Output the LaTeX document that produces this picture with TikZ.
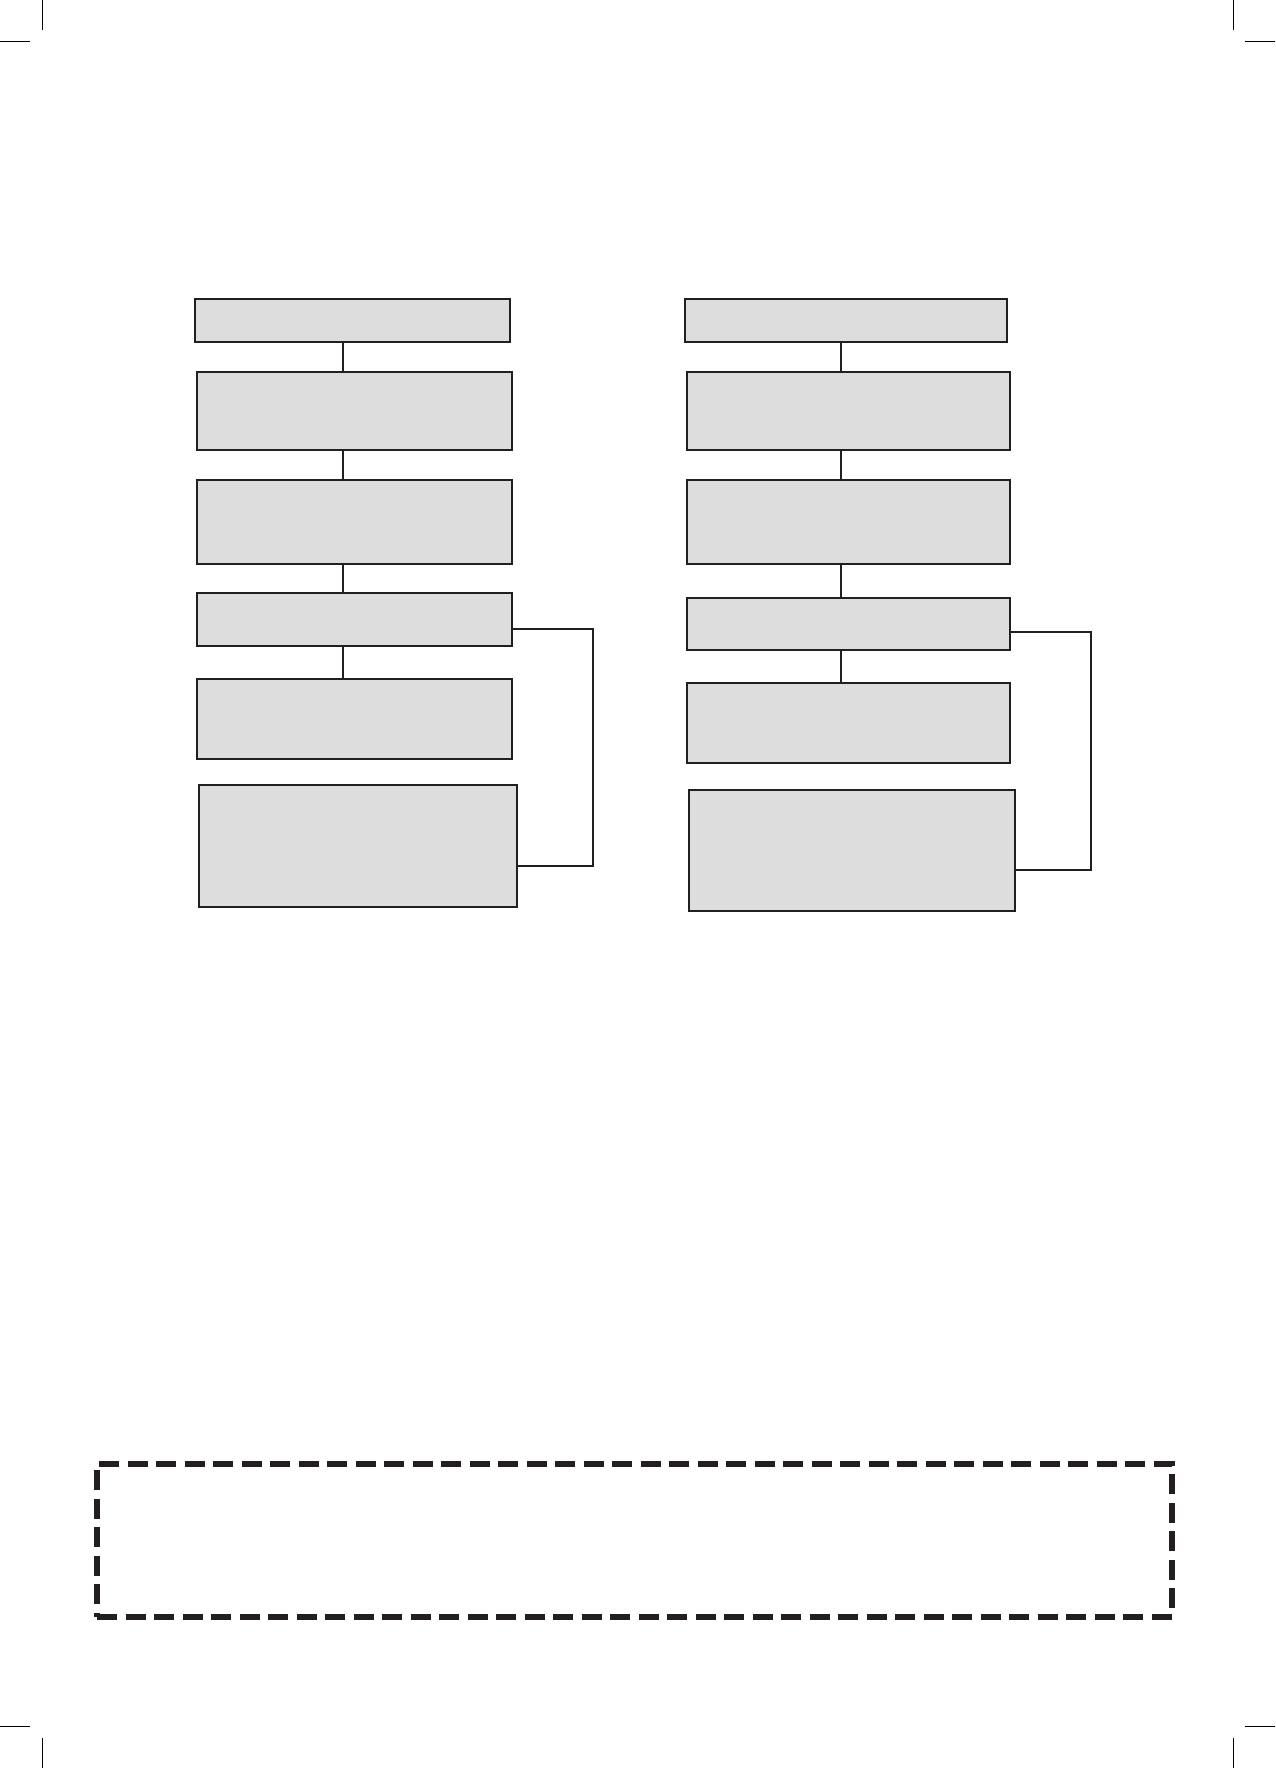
\documentclass[tikz,border=0pt]{standalone}
\usetikzlibrary{calc}
\definecolor{boxfill}{HTML}{DDDDDD}
\definecolor{ink}{HTML}{231F20}
\begin{document}
\begin{tikzpicture}[x=1pt,y=-1pt,
  flowbox/.style={draw=ink,fill=boxfill,line width=2pt,rectangle,inner sep=0pt,outer sep=0pt},
  link/.style={draw=ink,line width=2pt},
  cropmark/.style={draw=black,line width=1pt},
  notebox/.style={draw=ink,line width=6pt,dash pattern=on 20pt off 8.5pt}]
\useasboundingbox (0,0) rectangle (1275,1768);
\fill[white] (0,0) rectangle (1275,1768);
% left column
\node[flowbox,minimum width=315pt,minimum height=43pt] (L1) at (352,320.2) {};
\node[flowbox,minimum width=315.6pt,minimum height=78.3pt] (L2) at (354.5,410.9) {};
\node[flowbox,minimum width=315.6pt,minimum height=84.3pt] (L3) at (354.5,521.9) {};
\node[flowbox,minimum width=315.6pt,minimum height=53pt] (L4) at (354.5,619.5) {};
\node[flowbox,minimum width=315.6pt,minimum height=80pt] (L5) at (354.5,719) {};
\node[flowbox,minimum width=318.6pt,minimum height=121.7pt] (L6) at (358,845.8) {};
\coordinate (lx) at (343,0);
\draw[link] (L1.south -| lx) -- (L2.north -| lx);
\draw[link] (L2.south -| lx) -- (L3.north -| lx);
\draw[link] (L3.south -| lx) -- (L4.north -| lx);
\draw[link] (L4.south -| lx) -- (L5.north -| lx);
\coordinate (lb) at (593,0);
\draw[link] (L4.east |- 0,629) -- (lb |- 0,629) -- (lb |- 0,865.7) -- (L6.east |- 0,865.7);
% right column
\node[flowbox,minimum width=322.6pt,minimum height=43pt] (R1) at (846,320.2) {};
\node[flowbox,minimum width=323.3pt,minimum height=78.3pt] (R2) at (848.35,410.9) {};
\node[flowbox,minimum width=323.3pt,minimum height=84pt] (R3) at (848.35,522) {};
\node[flowbox,minimum width=323.3pt,minimum height=51.7pt] (R4) at (848.35,623.85) {};
\node[flowbox,minimum width=323.3pt,minimum height=79.7pt] (R5) at (848.35,722.85) {};
\node[flowbox,minimum width=326.6pt,minimum height=120.7pt] (R6) at (852,850.35) {};
\coordinate (rx) at (841,0);
\draw[link] (R1.south -| rx) -- (R2.north -| rx);
\draw[link] (R2.south -| rx) -- (R3.north -| rx);
\draw[link] (R3.south -| rx) -- (R4.north -| rx);
\draw[link] (R4.south -| rx) -- (R5.north -| rx);
\coordinate (rb) at (1091,0);
\draw[link] (R4.east |- 0,632.3) -- (rb |- 0,632.3) -- (rb |- 0,869.7) -- (R6.east |- 0,869.7);
% dashed note box
\node[notebox,rectangle,minimum width=1074.7pt,minimum height=152.7pt,inner sep=0pt] (note) at (634.35,1540.35) {};
% crop marks
\draw[cropmark] (42,0) -- (42,30);
\draw[cropmark] (0,42) -- (30,42);
\draw[cropmark] (1233,0) -- (1233,30);
\draw[cropmark] (1245,42) -- (1275,42);
\draw[cropmark] (0,1726) -- (30,1726);
\draw[cropmark] (42,1738) -- (42,1768);
\draw[cropmark] (1245,1726) -- (1275,1726);
\draw[cropmark] (1233,1738) -- (1233,1768);
\end{tikzpicture}
\end{document}
